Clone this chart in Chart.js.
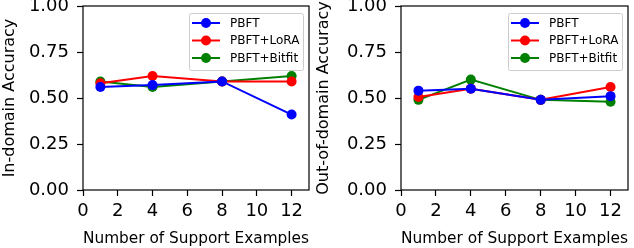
<!DOCTYPE html>
<html>
<head>
<meta charset="utf-8">
<script src="https://cdn.jsdelivr.net/npm/chart.js@4/dist/chart.umd.min.js"></script>
<style>
  html, body { margin: 0; padding: 0; background: #fff; }
  #wrap { position: relative; width: 634px; height: 248px; overflow: hidden; }
  #c1 { position: absolute; left: 0; top: 0; }
  #c2 { position: absolute; left: 314px; top: 0; }
</style>
</head>
<body>
<div id="wrap">
  <canvas id="c1" width="314" height="248"></canvas>
  <canvas id="c2" width="320" height="248"></canvas>
</div>
<script>
// ---- data ----
const supportExamples = [1, 4, 8, 12];
const seriesNames = ['PBFT', 'PBFT+LoRA', 'PBFT+Bitfit'];
const inPBFT   = [0.56, 0.57, 0.59, 0.41];
const inLoRA   = [0.58, 0.62, 0.59, 0.59];
const inBitfit = [0.59, 0.56, 0.59, 0.62];
const outPBFT   = [0.54, 0.55, 0.49, 0.51];
const outLoRA   = [0.505, 0.55, 0.49, 0.56];
const outBitfit = [0.49, 0.60, 0.49, 0.48];
const xTicks = [0, 2, 4, 6, 8, 10, 12];
const yTicks = [0, 0.25, 0.5, 0.75, 1.0];
const xTitle = 'Number of Support Examples';
const yTitleLeft = 'In-domain Accuracy';
const yTitleRight = 'Out-of-domain Accuracy';

const colors = ['#0000ff', '#ff0000', '#008000'];
const FONT = 'DejaVu Sans';

function toPoints(vals) {
  return supportExamples.map((x, i) => ({ x: x, y: vals[i] }));
}

const framePlugin = {
  id: 'frame',
  afterDatasetsDraw(chart) {
    const a = chart.chartArea, ctx = chart.ctx;
    ctx.save();
    ctx.strokeStyle = '#000';
    ctx.lineWidth = 1.2;
    ctx.strokeRect(a.left, a.top, a.right - a.left, a.bottom - a.top);
    ctx.restore();
  }
};

const legendPlugin = {
  id: 'boxLegend',
  afterDraw(chart) {
    const a = chart.chartArea, ctx = chart.ctx;
    const right = a.right - 6, w = 114, left = right - w;
    const top = a.top + 7, h = 57;
    ctx.save();
    ctx.fillStyle = 'rgba(255,255,255,0.85)';
    ctx.strokeStyle = '#cccccc';
    ctx.lineWidth = 1;
    ctx.beginPath();
    if (ctx.roundRect) ctx.roundRect(left + 0.5, top + 0.5, w, h, 2);
    else ctx.rect(left + 0.5, top + 0.5, w, h);
    ctx.fill();
    ctx.stroke();
    ctx.font = '12px "' + FONT + '"';
    ctx.textBaseline = 'middle';
    ctx.textAlign = 'left';
    chart.data.datasets.forEach((ds, i) => {
      const y = top + 10 + i * 17.5;
      const x0 = left + 3, x1 = left + 31;
      ctx.strokeStyle = ds.borderColor;
      ctx.lineWidth = 2;
      ctx.beginPath(); ctx.moveTo(x0, y); ctx.lineTo(x1, y); ctx.stroke();
      ctx.fillStyle = ds.borderColor;
      ctx.beginPath(); ctx.arc((x0 + x1) / 2, y, 5, 0, Math.PI * 2); ctx.fill();
      ctx.fillStyle = '#000';
      ctx.fillText(ds.label, left + 41, y + 0.5);
    });
    ctx.restore();
  }
};

function makeChart(id, vals, yTitle, padRight, yWidth) {
  const datasets = vals.map((v, i) => ({
    label: seriesNames[i],
    data: toPoints(v),
    borderColor: colors[i],
    backgroundColor: colors[i],
    borderWidth: 2,
    pointRadius: 5,
    pointBorderWidth: 0,
    pointHoverRadius: 5,
    tension: 0,
    fill: false
  }));
  return new Chart(document.getElementById(id), {
    type: 'line',
    data: { datasets },
    options: {
      responsive: false,
      animation: false,
      devicePixelRatio: 1,
      events: [],
      layout: { padding: { left: 0, right: padRight, top: 6, bottom: 0 } },
      plugins: { legend: { display: false }, tooltip: { enabled: false } },
      scales: {
        x: {
          type: 'linear', min: 0, max: 13,
          afterBuildTicks: (s) => { s.ticks = xTicks.map(v => ({ value: v })); },
          afterFit: (s) => { s.height = 58; s.paddingLeft = 0; s.paddingRight = 0; },
          border: { display: false },
          grid: { drawOnChartArea: false, color: '#000', tickLength: 6, tickWidth: 1.2 },
          ticks: { color: '#000', font: { family: FONT, size: 18 }, padding: 5, maxRotation: 0, autoSkip: false },
          title: { display: true, text: xTitle, color: '#000', font: { family: FONT, size: 16 }, padding: { top: 0, bottom: 0 } }
        },
        y: {
          type: 'linear', min: 0, max: 1,
          afterBuildTicks: (s) => { s.ticks = yTicks.map(v => ({ value: v })); },
          afterFit: (s) => { s.width = yWidth; s.paddingTop = 0; s.paddingBottom = 0; },
          border: { display: false },
          grid: { drawOnChartArea: false, color: '#000', tickLength: 6, tickWidth: 1.2 },
          ticks: { color: '#000', font: { family: FONT, size: 18 }, padding: 8, callback: (v) => Number(v).toFixed(2) },
          title: { display: true, text: yTitle, color: '#000', font: { family: FONT, size: 16 }, padding: { top: 0, bottom: 0 } }
        }
      }
    },
    plugins: [framePlugin, legendPlugin]
  });
}

makeChart('c1', [inPBFT, inLoRA, inBitfit], yTitleLeft, 4, 83);
makeChart('c2', [outPBFT, outLoRA, outBitfit], yTitleRight, 6, 87);
</script>
</body>
</html>
